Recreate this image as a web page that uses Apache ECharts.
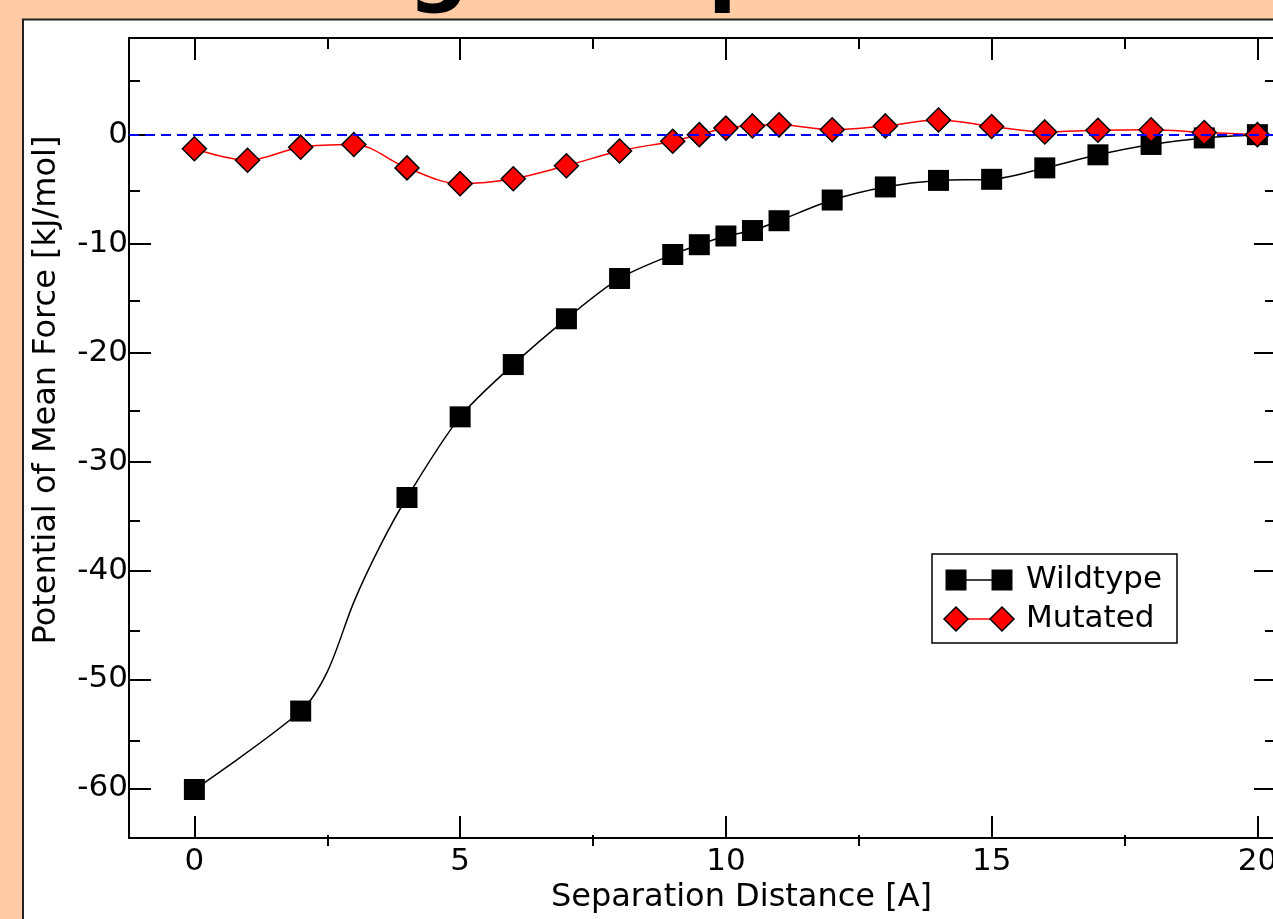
<!DOCTYPE html>
<html>
<head>
<meta charset="utf-8">
<script src="https://cdn.jsdelivr.net/npm/echarts@6/dist/echarts.min.js"></script>
<style>
  html, body { margin: 0; padding: 0; overflow: hidden; background: #ffcca6; }
  #chart { width: 1300px; height: 919px; }
</style>
</head>
<body>
<div id="chart"></div>
<script>
// separation distance [A] and PMF [kJ/mol]
var distWT = [0, 2, 4, 5, 6, 7, 8, 9, 9.5, 10, 10.5, 11, 12, 13, 14, 15, 16, 17, 18, 19, 20];
var pmfWT  = [-60.1, -52.9, -33.3, -25.9, -21.1, -16.9, -13.2, -11.0, -10.1, -9.3, -8.8, -7.9, -6.0, -4.8, -4.2, -4.1, -3.05, -1.85, -0.9, -0.3, 0];
// points on the wildtype curve that carry no marker (bend between 2 and 4 A)
var bendX = [2.5, 3, 3.5];
var bendY = [-49.3, -42.9, -37.7];

var distMut = [0, 1, 2, 3, 4, 5, 6, 7, 8, 9, 9.5, 10, 10.5, 11, 12, 13, 14, 15, 16, 17, 18, 19, 20];
var pmfMut  = [-1.3, -2.35, -1.15, -0.9, -3.05, -4.5, -4.05, -2.85, -1.5, -0.6, 0.0, 0.6, 0.8, 0.9, 0.45, 0.8, 1.35, 0.75, 0.25, 0.4, 0.45, 0.2, 0];

var xMajor = [0, 5, 10, 15, 20];
var xMinor = [2.5, 7.5, 12.5, 17.5];
var yMajor = [-60, -50, -40, -30, -20, -10, 0];
var yMinor = [-55, -45, -35, -25, -15, -5, 5];

var X_MIN = -1.23, X_MAX = 20.35;
var Y_MIN = -64.56, Y_MAX = 8.87;
var FONT = 'DejaVu Sans';

function wtData() {
    var pts = [];
    for (var i = 0; i < distWT.length; i++) pts.push({ value: [distWT[i], pmfWT[i]] });
    for (var j = 0; j < bendX.length; j++) pts.push({ value: [bendX[j], bendY[j]], symbol: 'none' });
    pts.sort(function (a, b) { return a.value[0] - b.value[0]; });
    return pts;
}

function mutData() {
    return distMut.map(function (d, i) { return [d, pmfMut[i]]; });
}

function makeAxis(dim, opts) {
    var base = {
        type: 'value',
        min: dim === 'x' ? X_MIN : Y_MIN,
        max: dim === 'x' ? X_MAX : Y_MAX,
        splitLine: { show: false },
        axisLine: { show: true, onZero: false, lineStyle: { color: '#000', width: 2 } },
        axisTick: { show: true, inside: true, length: 22, lineStyle: { color: '#000', width: 2 } },
        axisLabel: { show: false }
    };
    return echarts.util.merge(base, opts, true);
}

var chart = echarts.init(document.getElementById('chart'));

var labelStyle = { color: '#000', fontSize: 31, fontFamily: FONT };
var nameStyle = { color: '#000', fontSize: 32, fontFamily: FONT };

var option = {
    animation: false,
    backgroundColor: '#ffcca6',
    grid: [
        { left: 129, top: 38, right: 24, bottom: 73 },
        { left: 129, top: 38, right: 24, bottom: 73 }
    ],
    xAxis: [
        makeAxis('x', {
            gridIndex: 0, position: 'bottom',
            axisTick: { customValues: xMajor },
            axisLabel: echarts.util.extend({ show: true, customValues: xMajor, margin: 8 }, labelStyle),
            name: 'Separation Distance [A]',
            nameLocation: 'middle',
            nameGap: 37,
            nameTextStyle: echarts.util.extend({ padding: [0, 0, 0, 78] }, nameStyle)
        }),
        makeAxis('x', { gridIndex: 0, position: 'top', axisTick: { customValues: xMajor } }),
        makeAxis('x', {
            gridIndex: 1, position: 'bottom', axisLine: { show: false },
            axisTick: { customValues: xMinor, length: 11 }
        }),
        makeAxis('x', {
            gridIndex: 1, position: 'top', axisLine: { show: false },
            axisTick: { customValues: xMinor, length: 11 }
        })
    ],
    yAxis: [
        makeAxis('y', {
            gridIndex: 0, position: 'left',
            axisTick: { customValues: yMajor },
            axisLabel: echarts.util.extend({ show: true, customValues: yMajor, margin: 1 }, labelStyle),
            name: 'Potential of Mean Force [kJ/mol]',
            nameLocation: 'middle',
            nameGap: 66,
            nameTextStyle: echarts.util.extend({ padding: [0, 0, 0, 96] }, nameStyle)
        }),
        makeAxis('y', { gridIndex: 0, position: 'right', axisTick: { customValues: yMajor } }),
        makeAxis('y', {
            gridIndex: 1, position: 'left', axisLine: { show: false },
            axisTick: { customValues: yMinor, length: 11 }
        }),
        makeAxis('y', {
            gridIndex: 1, position: 'right', axisLine: { show: false },
            axisTick: { customValues: yMinor, length: 11 }
        })
    ],
    series: [
        {
            name: 'Wildtype',
            type: 'line',
            xAxisIndex: 0, yAxisIndex: 0,
            data: wtData(),
            smooth: 0.3,
            symbol: 'rect',
            symbolSize: 21,
            showAllSymbol: true,
            lineStyle: { color: '#000', width: 1.5 },
            itemStyle: { color: '#000' }
        },
        {
            name: 'Mutated',
            type: 'line',
            xAxisIndex: 0, yAxisIndex: 0,
            data: mutData(),
            smooth: 0.35,
            symbol: 'diamond',
            symbolSize: 24,
            showAllSymbol: true,
            lineStyle: { color: '#ff0000', width: 1.5 },
            itemStyle: { color: '#ff0000', borderColor: '#000', borderWidth: 1.5 },
            markLine: {
                silent: true,
                symbol: ['none', 'none'],
                label: { show: false },
                lineStyle: { color: '#0000ff', type: [10, 6], width: 2.2 },
                data: [{ yAxis: 0 }]
            }
        }
    ],
    graphic: [
        {
            type: 'rect', z: -10, silent: true,
            shape: { x: 23, y: 19.5, width: 1400, height: 1000 },
            style: { fill: '#fff', stroke: '#222', lineWidth: 2 }
        },
        {
            type: 'text', z: -5, silent: true,
            style: {
                text: 'Binding Comparison', x: 103, y: -27,
                font: 'bold 85px "DejaVu Sans"', fill: '#000', verticalAlign: 'middle'
            }
        },
        {
            type: 'group', z: 100, silent: true,
            children: [
                { type: 'rect', shape: { x: 932, y: 554, width: 245, height: 89 },
                  style: { fill: '#fff', stroke: '#000', lineWidth: 1.5 } },
                { type: 'line', shape: { x1: 956, y1: 580, x2: 1002, y2: 580 },
                  style: { stroke: '#000', lineWidth: 1.5 } },
                { type: 'rect', shape: { x: 945.5, y: 569.5, width: 21, height: 21 }, style: { fill: '#000' } },
                { type: 'rect', shape: { x: 991.5, y: 569.5, width: 21, height: 21 }, style: { fill: '#000' } },
                { type: 'text', style: { text: 'Wildtype', x: 1026, y: 580, font: '31px "DejaVu Sans"', fill: '#000', verticalAlign: 'middle' } },
                { type: 'line', shape: { x1: 956, y1: 619, x2: 1002, y2: 619 },
                  style: { stroke: '#ff0000', lineWidth: 1.5 } },
                { type: 'polygon', shape: { points: [[956, 607], [968, 619], [956, 631], [944, 619]] },
                  style: { fill: '#ff0000', stroke: '#000', lineWidth: 1.5 } },
                { type: 'polygon', shape: { points: [[1002, 607], [1014, 619], [1002, 631], [990, 619]] },
                  style: { fill: '#ff0000', stroke: '#000', lineWidth: 1.5 } },
                { type: 'text', style: { text: 'Mutated', x: 1026, y: 619, font: '31px "DejaVu Sans"', fill: '#000', verticalAlign: 'middle' } }
            ]
        }
    ]
};

chart.setOption(option);
</script>
</body>
</html>
